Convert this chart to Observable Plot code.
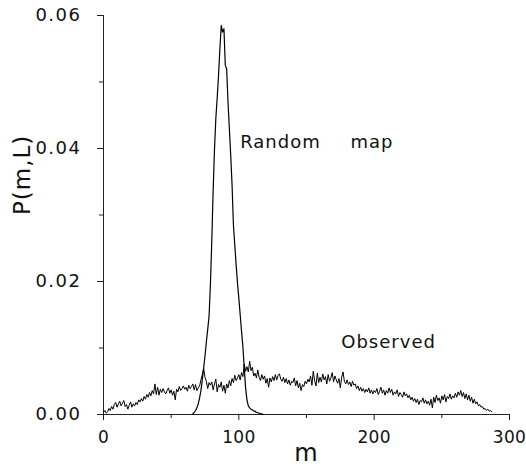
<!DOCTYPE html>
<html>
<head>
<meta charset="utf-8">
<script src="https://cdn.jsdelivr.net/npm/d3@7"></script>
<script src="https://cdn.jsdelivr.net/npm/@observablehq/plot@0.6"></script>
<style>
  html, body { margin: 0; padding: 0; background: #fff; }
  svg text { letter-spacing: 1px; }
  svg g[aria-label="x-axis tick label"] text { letter-spacing: 0.3px; }
  svg g[aria-label="y-axis tick label"] text { letter-spacing: 1.5px; }
</style>
</head>
<body>
<div id="chart"></div>
<script>
// Random map distribution (values in units of 0.001), m = 66..118
const randomStart = 66;
const randomValues = [
  0.1, 0.3, 0.6, 1.0, 1.6, 2.5, 3.6, 5.2, 7.0, 8.8,
  10.9, 12.8, 14.8, 19.5, 26.0, 33.5, 39.8, 44.5, 47.6, 51.0,
  55.0, 58.5, 57.5, 58.0, 52.5, 52.0, 47.0, 43.0, 39.0, 34.5,
  28.5, 25.5, 22.5, 19.8, 17.5, 15.0, 12.5, 10.2, 7.0, 4.0,
  2.2, 1.3, 1.0, 0.8, 0.7, 0.5, 0.5, 0.3, 0.3, 0.2,
  0.1, 0.1, 0.0
];
// Observed distribution (values in units of 0.001), m = 0..287
const observedStart = 0;
const observedValues = [
  0.3, 0.6, 0.2, 0.4, 0.9, 0.6, 1.2, 0.8, 1.5, 1.8,
  1.1, 1.6, 2.0, 1.3, 1.7, 2.1, 1.2, 1.5, 0.8, 1.4,
  1.9, 1.1, 1.6, 1.3, 1.8, 1.5, 2.2, 1.9, 2.4, 2.0,
  2.7, 2.3, 3.0, 2.6, 3.3, 2.8, 3.6, 3.1, 4.6, 3.0,
  4.1, 2.9, 3.8, 3.3, 3.9, 3.4, 3.1, 3.6, 4.0, 3.2,
  3.7, 2.9, 3.5, 2.2, 3.8, 3.4, 4.2, 3.6, 3.9, 4.3,
  3.8, 4.1, 3.5, 4.4, 3.9, 4.2, 4.6, 3.7, 4.5, 3.6,
  4.0, 4.3, 5.2, 6.0, 6.9, 5.6, 5.0, 3.9, 4.8, 4.4,
  4.9, 3.7, 4.6, 5.3, 3.4, 4.5, 4.1, 4.9, 3.5, 4.4,
  3.2, 4.6, 4.0, 5.1, 4.3, 5.4, 4.8, 5.9, 5.1, 5.5,
  6.0, 5.2, 6.3, 5.7, 7.6, 6.5, 7.2, 6.4, 8.0, 6.6,
  7.1, 5.8, 6.2, 5.5, 6.7, 5.6, 5.1, 6.0, 5.3, 5.8,
  4.7, 5.4, 4.1, 5.5, 4.9, 5.7, 5.1, 6.0, 5.2, 5.9,
  6.1, 5.3, 5.0, 5.6, 4.8, 5.4, 4.6, 5.2, 4.4, 5.0,
  4.8, 5.5, 4.3, 5.1, 4.0, 4.7, 3.6, 4.5, 4.2, 5.0,
  4.6, 5.3, 4.9, 5.8, 4.4, 6.5, 5.1, 4.3, 6.2, 4.8,
  5.6, 4.9, 6.1, 5.2, 5.7, 4.6, 6.0, 5.0, 5.5, 6.3,
  4.9, 5.8, 5.2, 4.7, 5.4, 4.0, 5.6, 6.4, 5.0, 4.6,
  5.2, 4.5, 4.9, 4.2, 5.0, 4.4, 4.6, 3.9, 4.3, 3.6,
  4.1, 3.5, 3.9, 3.3, 3.8, 3.4, 4.0, 3.2, 3.7, 3.1,
  3.6, 3.3, 3.9, 3.0, 3.5, 4.1, 3.2, 3.7, 2.9, 3.6,
  3.2, 4.0, 3.3, 3.8, 2.9, 3.4, 3.1, 3.7, 2.7, 3.3,
  3.0, 2.6, 3.4, 2.8, 3.1, 2.5, 2.9, 2.2, 2.6, 2.0,
  2.4, 1.8, 2.3, 1.5, 2.1, 1.9, 2.5, 1.7, 2.2, 1.6,
  2.0, 1.4, 2.3, 1.0, 2.6, 1.8, 2.9, 2.1, 2.5, 1.7,
  2.8, 2.2, 3.0, 1.9, 2.7, 2.4, 3.1, 2.3, 2.8, 2.5,
  3.2, 2.6, 3.4, 2.9, 3.6, 2.7, 3.3, 2.4, 3.1, 2.2,
  2.9, 2.0, 2.6, 1.7, 2.3, 1.6, 1.9, 1.3, 1.5, 1.1,
  1.2, 0.8, 0.9, 0.6, 0.8, 0.5, 0.6, 0.4
];
const xTicks = [0, 100, 200, 300];
const xMinorTicks = [50, 150, 250];
const yTicks = [0, 0.02, 0.04, 0.06];
const yMinorTicks = [0.01, 0.03, 0.05];
const xLabel = "m";
const yLabel = "P(m,L)";
const seriesNames = ["Random", "map", "Observed"];

const randomData = randomValues.map((v, i) => ({m: randomStart + i, p: v / 1000}));
const observedData = observedValues.map((v, i) => ({m: observedStart + i, p: v / 1000}));

const font = "DejaVu Sans";
const chart = Plot.plot({
  width: 526,
  height: 471,
  marginLeft: 103,
  marginRight: 17,
  marginTop: 15,
  marginBottom: 57,
  style: {fontFamily: font, background: "#fff", color: "#111"},
  x: {domain: [0, 300]},
  y: {domain: [0, 0.06]},
  marks: [
    Plot.ruleX([0], {y1: 0, y2: 0.06, stroke: "#222", strokeWidth: 1}),
    Plot.ruleY([0], {x1: 0, x2: 300, stroke: "#222", strokeWidth: 1}),
    Plot.axisX({ticks: xTicks, tickSize: 6, tickPadding: 10, fontSize: 17, tickFormat: d => String(d), label: null, stroke: "#222"}),
    Plot.axisX({ticks: xMinorTicks, tickSize: 4, text: null, label: null, stroke: "#222"}),
    Plot.axisY({ticks: yTicks, tickSize: 6, tickPadding: 16, fontSize: 18, tickFormat: d3.format(".2f"), label: null, stroke: "#222"}),
    Plot.axisY({ticks: yMinorTicks, tickSize: 4, text: null, label: null, stroke: "#222"}),
    Plot.line(observedData, {x: "m", y: "p", stroke: "#000", strokeWidth: 1}),
    Plot.line(randomData, {x: "m", y: "p", stroke: "#000", strokeWidth: 1.2}),
    Plot.text([seriesNames[0]], {x: 101, y: 0.041, text: d => d, textAnchor: "start", fontSize: 18}),
    Plot.text([seriesNames[1]], {x: 182.5, y: 0.041, text: d => d, textAnchor: "start", fontSize: 18}),
    Plot.text([seriesNames[2]], {x: 175.7, y: 0.0109, text: d => d, textAnchor: "start", fontSize: 18}),
    Plot.text([xLabel], {frameAnchor: "bottom", dy: 46, text: d => d, fontSize: 24}),
    Plot.text([yLabel], {frameAnchor: "left", rotate: -90, dx: -81, text: d => d, fontSize: 23})
  ]
});
document.getElementById("chart").appendChild(chart);
</script>
</body>
</html>
